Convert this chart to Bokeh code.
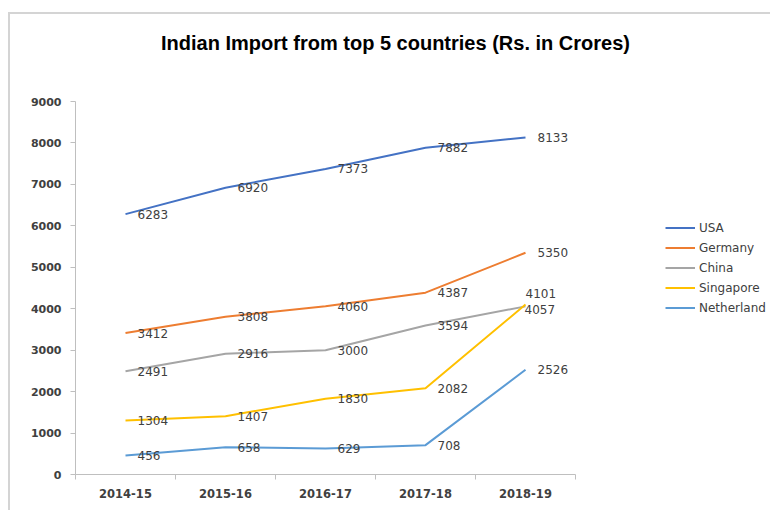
from bokeh.plotting import figure
from bokeh.models import Range1d, FixedTicker, Legend, LegendItem, ColumnDataSource, Label
from bokeh.embed import file_html
from bokeh.resources import INLINE
from bokeh.core.properties import value

# ---- data ----
title_text = "Indian Import from top 5 countries (Rs. in Crores)"
years = ["2014-15", "2015-16", "2016-17", "2017-18", "2018-19"]
countries = ["USA", "Germany", "China", "Singapore", "Netherland"]
usa = [6283, 6920, 7373, 7882, 8133]
germany = [3412, 3808, 4060, 4387, 5350]
china = [2491, 2916, 3000, 3594, 4057]
singapore = [1304, 1407, 1830, 2082, 4101]
netherland = [456, 658, 629, 708, 2526]
y_ticks = [0, 1000, 2000, 3000, 4000, 5000, 6000, 7000, 8000, 9000]
y_max = 9000

series = [usa, germany, china, singapore, netherland]
colors = ["#4472C4", "#ED7D31", "#A5A5A5", "#FFC000", "#5B9BD5"]
# manual label nudges (pixels) for overlapping labels: (series, index) -> (dx, dy)
label_shift = {("Singapore", 4): (-12, -11), ("China", 4): (-13, 3)}

TXT = "#404040"

# ---- geometry (pixels) ----
CW, CH = 762, 498
LEFT, BOTTOM = 65, 38
FRAME_W, FRAME_H = CW - LEFT, CH - BOTTOM
PLOT_W, PLOT_H = 500, 373   # pixel extent of the category axis / 0..y_max

x_end = len(years) * FRAME_W / PLOT_W
y_end = y_max * FRAME_H / PLOT_H

p = figure(width=CW, height=CH, output_backend="svg", toolbar_location=None,
           x_range=Range1d(0, x_end), y_range=Range1d(0, y_end),
           min_border_left=LEFT, min_border_right=0, min_border_top=0, min_border_bottom=BOTTOM,
           styles={"border-left": "2px solid #d4d4d4", "border-top": "2px solid #d4d4d4",
                   "margin-top": "12px", "margin-left": "8px"})
p.outline_line_color = None
p.grid.visible = False
p.background_fill_color = "white"
p.border_fill_color = "white"

xs = [i + 0.5 for i in range(len(years))]

items = []
for name, vals, col in zip(countries, series, colors):
    dx = [12] * len(vals)
    dy = [0] * len(vals)
    for i in range(len(vals)):
        if (name, i) in label_shift:
            sx, sy = label_shift[(name, i)]
            dx[i] += sx
            dy[i] += sy
    src = ColumnDataSource(dict(x=xs, y=vals, t=[str(v) for v in vals], dx=dx, dy=dy))
    r = p.line("x", "y", source=src, line_color=col, line_width=2)
    p.text("x", "y", text="t", source=src, x_offset="dx", y_offset="dy",
           text_font=value("DejaVu Sans"), text_font_size="12px", text_color=TXT,
           text_align="left", text_baseline="middle")
    items.append(LegendItem(label=name, renderers=[r]))

# axes
xa = p.xaxis[0]
xa.bounds = (0, len(years))
xa.ticker = FixedTicker(ticks=xs, minor_ticks=list(range(len(years) + 1)))
xa.major_label_overrides = {x: y for x, y in zip(xs, years)}
xa.major_tick_out = 0
xa.major_tick_in = 0
xa.minor_tick_out = 5
xa.minor_tick_in = 0
xa.axis_line_color = "#BFBFBF"
xa.minor_tick_line_color = "#BFBFBF"
xa.major_label_text_font = "DejaVu Sans"
xa.major_label_text_font_style = "bold"
xa.major_label_text_font_size = "11.5px"
xa.major_label_text_color = TXT
xa.major_label_standoff = 9

ya = p.yaxis[0]
ya.bounds = (0, y_max)
ya.ticker = FixedTicker(ticks=y_ticks)
ya.major_tick_out = 5
ya.major_tick_in = 0
ya.minor_tick_line_color = None
ya.axis_line_color = "#BFBFBF"
ya.major_tick_line_color = "#BFBFBF"
ya.major_label_text_font = "DejaVu Sans"
ya.major_label_text_font_style = "bold"
ya.major_label_text_font_size = "11px"
ya.major_label_text_color = TXT
ya.major_label_standoff = 9

# title
p.add_layout(Label(x=320, y=432, x_units="screen", y_units="screen", text=title_text,
                   text_font="Liberation Sans", text_font_style="bold",
                   text_font_size="20px", text_color="black",
                   text_align="center", text_baseline="middle"))

legend = Legend(items=items, location=(590, 158), padding=5, spacing=3, margin=0,
                glyph_width=30, glyph_height=17, label_height=17, label_standoff=4,
                label_text_font="DejaVu Sans", label_text_font_size="12px",
                label_text_color=TXT, border_line_color=None, background_fill_alpha=0)
p.add_layout(legend, "center")

open("out.html", "w").write(file_html(p, INLINE))
